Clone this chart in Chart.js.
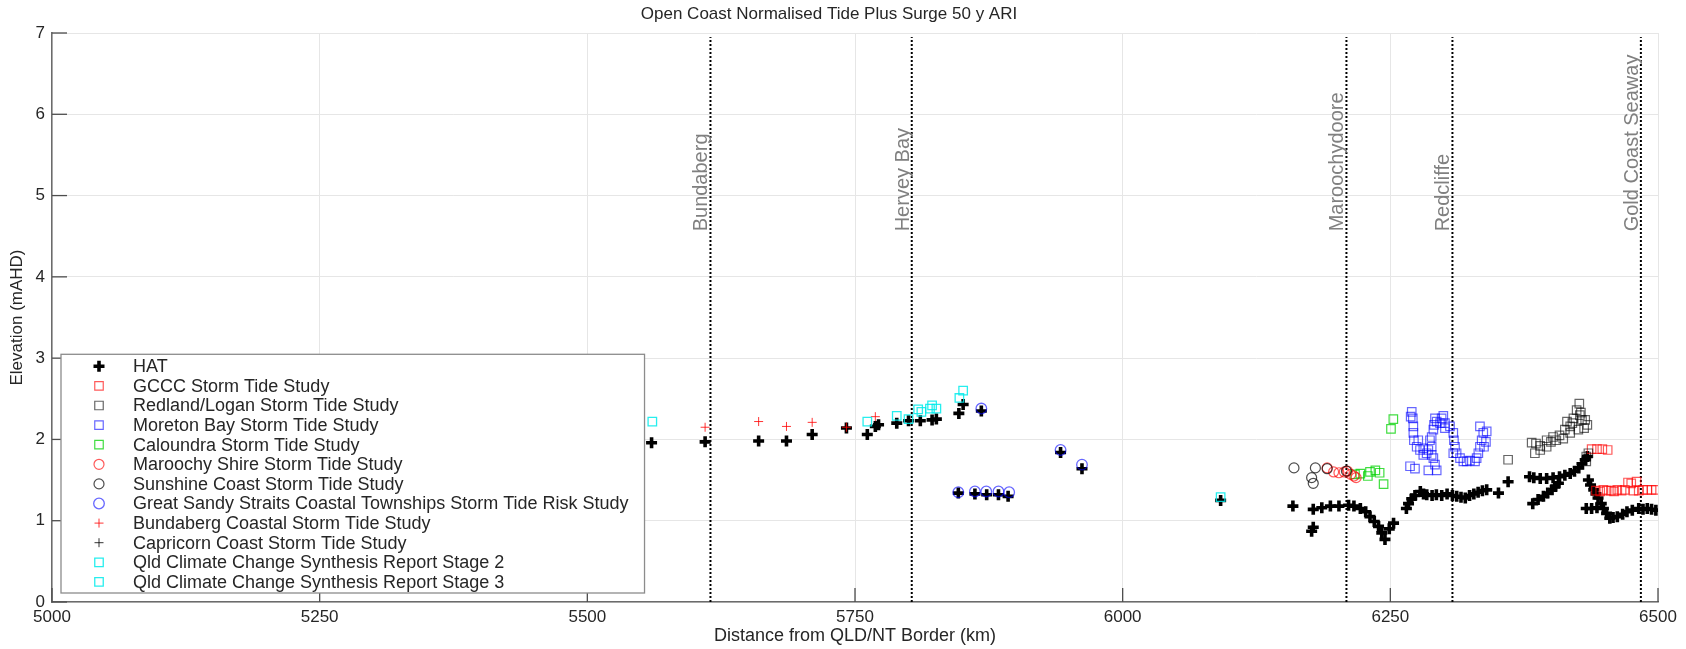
<!DOCTYPE html>
<html>
<head>
<meta charset="utf-8">
<script src="https://cdn.jsdelivr.net/npm/chart.js@4.4.1/dist/chart.umd.min.js"></script>
<style>
  html, body { margin: 0; padding: 0; background: #fff; }
</style>
</head>
<body>
<canvas id="myChart" width="1686" height="649"></canvas>
<script>
// --- data (km from QLD/NT border, elevation mAHD) ---
const hatKm = [5560, 5610, 5660, 5686, 5710, 5742, 5761.5, 5769, 5772, 5789, 5800, 5811, 5822, 5826, 5847, 5851, 5868, 5846.5, 5862, 5873, 5884, 5893, 5942, 5962, 6091.5,
    6159, 6176.5, 6178, 6178, 6186, 6194, 6202, 6211, 6216, 6222, 6227, 6231, 6235, 6239, 6242, 6245, 6249, 6253,
    6265, 6267, 6270, 6273, 6278, 6281, 6284, 6289, 6293, 6298, 6303, 6308, 6312, 6316, 6320, 6324, 6328, 6332, 6336, 6340, 6351, 6360,
    6380, 6384, 6390, 6396, 6402, 6408, 6413, 6418, 6422, 6426, 6429, 6432, 6434, 6383, 6388, 6393, 6397, 6401, 6404, 6407,
    6435, 6437, 6440, 6442, 6444, 6447, 6449, 6452, 6455, 6458, 6462, 6467, 6471, 6476, 6482, 6486, 6490, 6494, 6498, 6433, 6438, 6443];
const hatElev = [1.96, 1.97, 1.98, 1.98, 2.06, 2.14, 2.06, 2.16, 2.18, 2.20, 2.23, 2.23, 2.24, 2.25, 2.32, 2.43, 2.35, 1.34, 1.33, 1.32, 1.32, 1.30, 1.84, 1.64, 1.25,
    1.18, 0.87, 0.92, 1.14, 1.16, 1.18, 1.18, 1.19, 1.18, 1.15, 1.11, 1.05, 0.99, 0.93, 0.85, 0.77, 0.90, 0.97,
    1.15, 1.21, 1.27, 1.31, 1.36, 1.33, 1.32, 1.31, 1.32, 1.31, 1.33, 1.31, 1.30, 1.29, 1.28, 1.31, 1.33, 1.35, 1.37, 1.38, 1.34, 1.48,
    1.54, 1.53, 1.52, 1.52, 1.53, 1.54, 1.56, 1.58, 1.61, 1.65, 1.70, 1.75, 1.79, 1.21, 1.26, 1.30, 1.34, 1.38, 1.42, 1.46,
    1.50, 1.44, 1.38, 1.33, 1.28, 1.21, 1.15, 1.09, 1.03, 1.04, 1.05, 1.08, 1.11, 1.13, 1.15, 1.14, 1.15, 1.14, 1.13, 1.15, 1.15, 1.16];

const gcccKm = [6438, 6443, 6448, 6453, 6442, 6446, 6449, 6452, 6456, 6459, 6462, 6466, 6469, 6472, 6475, 6477, 6480, 6482, 6486, 6490, 6494, 6498];
const gcccElev = [1.88, 1.88, 1.88, 1.87, 1.37, 1.36, 1.38, 1.37, 1.37, 1.36, 1.38, 1.37, 1.38, 1.47, 1.46, 1.37, 1.48, 1.37, 1.38, 1.38, 1.38, 1.38];

const redlandKm = [6360, 6382, 6385, 6390, 6396, 6402, 6408, 6413, 6415, 6418, 6421, 6424, 6426.5, 6429, 6431, 6432, 6396, 6405, 6411.5, 6390, 6418, 6425.6, 6433, 6435, 6433, 6427, 6386, 6400, 6420, 6428, 6434];
const redlandElev = [1.75, 1.96, 1.83, 1.92, 1.99, 2.03, 2.05, 2.12, 2.22, 2.16, 2.26, 2.36, 2.44, 2.24, 2.14, 2.24, 1.91, 1.99, 2.01, 1.87, 2.08, 2.12, 1.79, 1.83, 1.73, 2.30, 1.95, 1.97, 2.20, 2.33, 2.18];

const moretonKm = [6270, 6271, 6269, 6271.5, 6271.5, 6272, 6274.6, 6277.7, 6280.8, 6283.9, 6285.5, 6288.6, 6290.2, 6291.7, 6285.5, 6293.3, 6268.4, 6273, 6287, 6288.6,
    6290.2, 6290.8, 6293.3, 6297.9, 6299.5, 6301, 6301, 6305.7, 6308.8, 6309.4, 6310.4, 6311.9, 6315.1, 6318.2, 6321.3, 6324.4, 6330.6, 6332.2, 6333.7, 6335.3,
    6336.8, 6333.7, 6340, 6339.3, 6337.5, 6280.8, 6276.1, 6288.6, 6291.7, 6296.4, 6308.8, 6329.1];
const moretonElev = [2.34, 2.26, 2.28, 2.16, 2.08, 1.99, 1.91, 1.87, 1.89, 1.83, 1.87, 1.81, 1.77, 1.69, 1.62, 1.62, 1.67, 1.64, 1.99, 2.03,
    2.12, 2.18, 2.22, 2.26, 2.29, 2.20, 2.14, 2.16, 2.08, 1.99, 1.91, 1.83, 1.77, 1.73, 1.73, 1.74, 1.77, 1.83, 1.91, 1.99,
    2.08, 2.16, 2.10, 1.97, 1.91, 1.81, 1.99, 1.91, 2.26, 2.20, 1.83, 1.73];

const caloundraKm = [6217, 6222, 6229, 6231, 6236, 6240, 6243.7, 6250.6, 6252.8];
const caloundraElev = [1.57, 1.58, 1.55, 1.60, 1.62, 1.59, 1.45, 2.13, 2.25];

const maroochyKm = [6191, 6197, 6202, 6207, 6210, 6213, 6216, 6218];
const maroochyElev = [1.65, 1.60, 1.59, 1.60, 1.61, 1.57, 1.55, 1.53];

const sunshineKm = [6160, 6176.5, 6178, 6180, 6191, 6209];
const sunshineElev = [1.65, 1.53, 1.46, 1.65, 1.64, 1.61];

const sandyKm = [5846.5, 5862, 5872.6, 5884, 5894, 5868, 5942, 5962];
const sandyElev = [1.35, 1.36, 1.36, 1.36, 1.35, 2.38, 1.87, 1.69];

const bundabergKm = [5610, 5660, 5686, 5710, 5742, 5769];
const bundabergElev = [2.15, 2.22, 2.16, 2.21, 2.15, 2.28];

// Capricorn Coast lies north of the plotted range, nothing shows here
const capricornKm = [];
const capricornElev = [];

const stage2Km = [5560.7, 5761.5, 6091.5];
const stage2Elev = [2.22, 2.22, 1.29];

const stage3Km = [5789, 5800, 5809, 5812, 5820, 5822, 5826, 5847.5, 5851];
const stage3Elev = [2.29, 2.25, 2.37, 2.34, 2.38, 2.42, 2.38, 2.51, 2.60];

const landmarkNames = ['Bundaberg', 'Hervey Bay', 'Maroochydoore', 'Redcliffe', 'Gold Coast Seaway'];
const landmarkKm = [5615, 5803, 6209, 6308, 6484];
const labelBaseElev = 4.56;

const FONT = '"Liberation Sans", Arial, Helvetica, sans-serif';

const toPoints = (xs, ys) => xs.map((x, i) => ({ x: x, y: ys[i] }));

const series = [
    { label: 'HAT', km: hatKm, elev: hatElev, style: 'cross', color: '#000000', radius: 5.5, width: 3.6 },
    { label: 'GCCC Storm Tide Study', km: gcccKm, elev: gcccElev, style: 'rect', color: 'rgba(255,0,0,0.65)', radius: 6, width: 1.2 },
    { label: 'Redland/Logan Storm Tide Study', km: redlandKm, elev: redlandElev, style: 'rect', color: 'rgba(0,0,0,0.6)', radius: 6, width: 1.2 },
    { label: 'Moreton Bay Storm Tide Study', km: moretonKm, elev: moretonElev, style: 'rect', color: 'rgba(0,0,255,0.6)', radius: 6, width: 1.2 },
    { label: 'Caloundra Storm Tide Study', km: caloundraKm, elev: caloundraElev, style: 'rect', color: 'rgba(0,210,0,0.75)', radius: 6, width: 1.2 },
    { label: 'Maroochy Shire Storm Tide Study', km: maroochyKm, elev: maroochyElev, style: 'circle', color: 'rgba(255,0,0,0.65)', radius: 5, width: 1.2 },
    { label: 'Sunshine Coast Storm Tide Study', km: sunshineKm, elev: sunshineElev, style: 'circle', color: 'rgba(0,0,0,0.7)', radius: 5, width: 1.2 },
    { label: 'Great Sandy Straits Coastal Townships Storm Tide Risk Study', km: sandyKm, elev: sandyElev, style: 'circle', color: 'rgba(0,0,255,0.6)', radius: 5.3, width: 1.3 },
    { label: 'Bundaberg Coastal Storm Tide Study', km: bundabergKm, elev: bundabergElev, style: 'cross', color: 'rgba(255,0,0,0.8)', radius: 4.5, width: 1 },
    { label: 'Capricorn Coast Storm Tide Study', km: capricornKm, elev: capricornElev, style: 'cross', color: 'rgba(0,0,0,0.8)', radius: 4.5, width: 1 },
    { label: 'Qld Climate Change Synthesis Report Stage 2', km: stage2Km, elev: stage2Elev, style: 'rect', color: 'rgba(0,235,235,0.85)', radius: 6, width: 1.3 },
    { label: 'Qld Climate Change Synthesis Report Stage 3', km: stage3Km, elev: stage3Elev, style: 'rect', color: 'rgba(0,235,235,0.85)', radius: 6, width: 1.3 }
];

const datasets = series.map((s, i) => ({
    label: s.label,
    data: toPoints(s.km, s.elev),
    showLine: false,
    pointStyle: s.style,
    pointRadius: s.radius,
    pointBorderWidth: s.width,
    pointBorderColor: s.color,
    pointBackgroundColor: 'rgba(0,0,0,0)',
    order: i === 0 ? 50 : 20 - i,
    inLegend: true
}));

landmarkKm.forEach((km, i) => {
    datasets.push({
        label: landmarkNames[i],
        data: [{ x: km, y: 0 }, { x: km, y: 6.95 }],
        showLine: true,
        borderColor: '#000',
        borderWidth: 2,
        borderDash: [2, 2],
        pointRadius: 0,
        order: 100,
        inLegend: false
    });
});

function drawMarker(ctx, style, x, y, r) {
    ctx.beginPath();
    if (style === 'rect') {
        const h = r * Math.SQRT1_2;
        ctx.rect(x - h, y - h, 2 * h, 2 * h);
    } else if (style === 'circle') {
        ctx.arc(x, y, r, 0, Math.PI * 2);
    } else {
        ctx.moveTo(x - r, y); ctx.lineTo(x + r, y);
        ctx.moveTo(x, y - r); ctx.lineTo(x, y + r);
    }
    ctx.stroke();
}

const overlay = {
    id: 'overlay',
    afterDraw(chart) {
        const { ctx, chartArea, scales: { x, y } } = chart;
        ctx.save();

        // inward tick marks
        ctx.strokeStyle = '#4d4d4d';
        ctx.lineWidth = 1.3;
        x.ticks.forEach(t => {
            const px = x.getPixelForValue(t.value);
            ctx.beginPath(); ctx.moveTo(px, chartArea.bottom); ctx.lineTo(px, chartArea.bottom - 14); ctx.stroke();
        });
        y.ticks.forEach(t => {
            const py = y.getPixelForValue(t.value);
            ctx.beginPath(); ctx.moveTo(chartArea.left, py); ctx.lineTo(chartArea.left + 15, py); ctx.stroke();
        });

        // landmark labels
        ctx.fillStyle = '#808080';
        ctx.font = '20px ' + FONT;
        ctx.textAlign = 'left';
        ctx.textBaseline = 'alphabetic';
        landmarkNames.forEach((name, i) => {
            ctx.save();
            ctx.translate(x.getPixelForValue(landmarkKm[i]) - 3, y.getPixelForValue(labelBaseElev));
            ctx.rotate(-Math.PI / 2);
            ctx.fillText(name, 0, 0);
            ctx.restore();
        });

        // legend box inside the plot, lower left
        const items = chart.data.datasets.filter(d => d.inLegend);
        ctx.font = '18px ' + FONT;
        const rowH = 19.6;
        const boxLeft = chartArea.left + 9;
        const boxBottom = chartArea.bottom - 9;
        const boxTop = boxBottom - (items.length * rowH + 3.5);
        const textX = boxLeft + 72;
        let maxW = 0;
        items.forEach(d => { maxW = Math.max(maxW, ctx.measureText(d.label).width); });
        const boxRight = textX + maxW + 16;
        ctx.fillStyle = '#fff';
        ctx.fillRect(boxLeft, boxTop, boxRight - boxLeft, boxBottom - boxTop);
        ctx.strokeStyle = '#8c8c8c';
        ctx.lineWidth = 1.3;
        ctx.strokeRect(boxLeft, boxTop, boxRight - boxLeft, boxBottom - boxTop);

        ctx.textBaseline = 'middle';
        items.forEach((d, i) => {
            const cy = boxTop + 12 + i * rowH;
            ctx.strokeStyle = d.pointBorderColor;
            ctx.lineWidth = d.pointBorderWidth;
            drawMarker(ctx, d.pointStyle, boxLeft + 38, cy, d.pointRadius);
            ctx.fillStyle = '#262626';
            ctx.fillText(d.label, textX, cy + 1);
        });
        ctx.restore();
    }
};

const ctx = document.getElementById('myChart').getContext('2d');
new Chart(ctx, {
    type: 'scatter',
    data: { datasets: datasets },
    plugins: [overlay],
    options: {
        responsive: false,
        animation: false,
        events: [],
        layout: { padding: { left: 0, right: 28, top: 0, bottom: 0 } },
        plugins: {
            legend: { display: false },
            tooltip: { enabled: false },
            title: {
                display: true,
                text: 'Open Coast Normalised Tide Plus Surge 50 y ARI',
                color: '#262626',
                font: { family: FONT, size: 17, weight: 'normal', lineHeight: 1.2 },
                padding: { top: 4, bottom: 8.6 }
            }
        },
        scales: {
            x: {
                type: 'linear',
                min: 5000,
                max: 6500,
                ticks: { stepSize: 250, color: '#262626', padding: 5, font: { family: FONT, size: 17 }, callback: v => String(v) },
                grid: { color: '#e6e6e6', drawTicks: false },
                border: { color: '#6b6b6b', width: 1.5 },
                title: {
                    display: true,
                    text: 'Distance from QLD/NT Border (km)',
                    color: '#262626',
                    font: { family: FONT, size: 18, lineHeight: 1.2 },
                    padding: { top: 0, bottom: 2 }
                },
                afterFit: scale => { scale.height = 47; }
            },
            y: {
                type: 'linear',
                min: 0,
                max: 7,
                ticks: { stepSize: 1, color: '#262626', padding: 7, font: { family: FONT, size: 17 }, callback: v => String(v) },
                grid: { color: '#e6e6e6', drawTicks: false },
                border: { color: '#6b6b6b', width: 1.5 },
                title: {
                    display: true,
                    text: 'Elevation (mAHD)',
                    color: '#262626',
                    font: { family: FONT, size: 17, lineHeight: 1.2 },
                    padding: { top: 7, bottom: 0 }
                },
                afterFit: scale => { scale.width = 52; }
            }
        }
    }
});
</script>
</body>
</html>
